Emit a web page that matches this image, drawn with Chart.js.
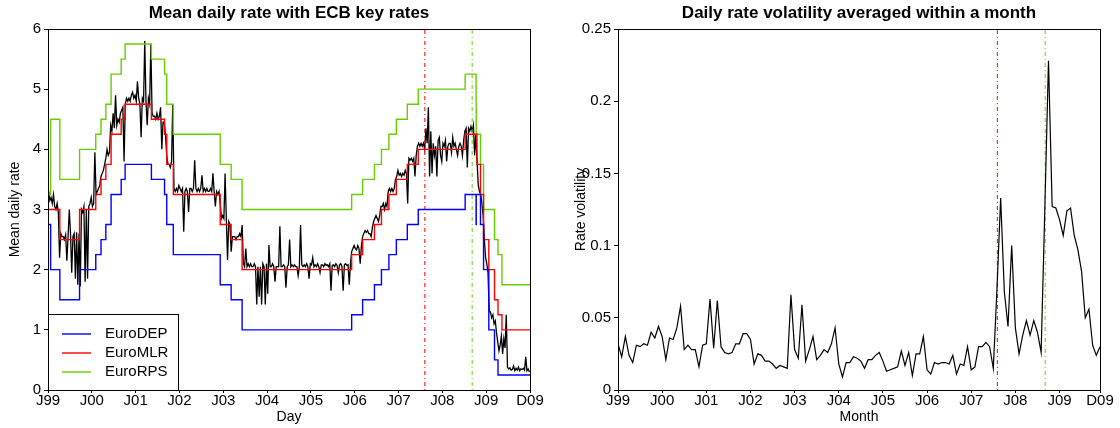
<!DOCTYPE html>
<html>
<head>
<meta charset="utf-8">
<script src="https://cdn.jsdelivr.net/npm/chart.js@4.4.1/dist/chart.umd.min.js"></script>
<style>
  html, body { margin: 0; padding: 0; background: #fff; }
  #wrap { display: flex; width: 1120px; height: 428px; }
  canvas { display: block; }
</style>
</head>
<body>
<div id="wrap">
  <canvas id="chart-daily" width="560" height="428"></canvas>
  <canvas id="chart-vol" width="560" height="428"></canvas>
</div>
<script>
// ── Data ──────────────────────────────────────────────────────────────────────
// x in years since 1 Jan 1999 (left) and months since Jan 1999 (right)
const tickLabels  = ["J99","J00","J01","J02","J03","J04","J05","J06","J07","J08","J09","D09"];
const dayTicks    = [0, 1, 2, 3, 4, 5, 6, 7, 8, 9, 10, 11];
const monthTicks  = [0, 12, 24, 36, 48, 60, 72, 84, 96, 108, 120, 131];

const seriesNames  = ["EuroDEP", "EuroMLR", "EuroRPS"];
const seriesColors = ["#0000FF", "#FF0000", "#66CD00"];

// ECB key rate changes
const rateDates = [0, 0.06, 0.27, 0.72, 1.09, 1.21, 1.32, 1.44, 1.67, 1.76, 2.36, 2.66, 2.71, 2.86,
  3.93, 4.18, 4.43, 6.93, 7.18, 7.45, 7.61, 7.78, 7.95, 8.2, 8.45, 9.52, 9.77, 9.773, 9.79, 9.87,
  9.94, 10.06, 10.19, 10.27, 10.36, 11];
const euroDEP = [2.75, 2.0, 1.5, 2.0, 2.25, 2.5, 2.75, 3.25, 3.5, 3.75, 3.5, 3.25, 2.75, 2.25,
  1.75, 1.5, 1.0, 1.25, 1.5, 1.75, 2.0, 2.25, 2.5, 2.75, 3.0, 3.25, 2.75, 3.25, 3.25, 2.75,
  2.0, 1.0, 0.5, 0.25, 0.25, 0.25];
const euroMLR = [3.0, 3.0, 2.5, 3.0, 3.25, 3.5, 3.75, 4.25, 4.5, 4.75, 4.5, 4.25, 3.75, 3.25,
  2.75, 2.5, 2.0, 2.25, 2.5, 2.75, 3.0, 3.25, 3.5, 3.75, 4.0, 4.25, 4.25, 4.25, 3.75, 3.25,
  2.5, 2.0, 1.5, 1.25, 1.0, 1.0];
const euroRPS = [3.25, 4.5, 3.5, 4.0, 4.25, 4.5, 4.75, 5.25, 5.5, 5.75, 5.5, 5.25, 4.75, 4.25,
  3.75, 3.5, 3.0, 3.25, 3.5, 3.75, 4.0, 4.25, 4.5, 4.75, 5.0, 5.25, 4.75, 4.25, 4.25, 3.75,
  3.0, 3.0, 2.5, 2.25, 1.75, 1.75];

// mean daily rate, three readings per month (Jan 1999 .. Dec 2009)
const dailyRate = [
  // 1999
  3.30,3.15,3.20, 3.10,3.25,3.05, 3.00,3.10,2.95, 2.20,2.60,2.55, 2.55,2.50,2.58, 2.15,2.55,3.00,
  2.60,1.95,2.55, 2.60,1.85,2.62, 1.75,2.60,1.72, 3.00,2.95,3.05, 1.80,3.00,1.85, 3.05,3.10,3.20,
  // 2000
  3.05,3.10,3.95, 3.25,3.30,3.35, 3.40,3.55,3.60, 3.65,3.75,3.85, 4.00,3.90,3.95, 4.40,4.30,4.60,
  4.35,4.90,4.40, 4.50,4.45,4.60, 4.65,4.70,3.80, 4.75,4.85,4.80, 4.85,4.80,4.90, 4.95,4.85,4.90,
  // 2001
  4.80,5.13,4.85, 4.75,4.20,4.85, 4.80,5.80,4.80, 4.40,4.85,4.75, 5.75,4.60,4.55, 4.55,4.50,4.60,
  4.50,4.55,4.70, 4.00,4.45,4.45, 4.25,3.90,3.75, 3.75,3.70,3.80, 4.75,3.35,3.30, 3.35,3.30,3.40,
  // 2002
  3.35,3.30,3.35, 2.63,3.30,3.35, 3.30,2.96,3.35, 3.35,3.30,3.35, 3.82,3.35,3.30, 3.35,3.30,3.35,
  3.57,3.30,3.35, 3.30,3.35,3.30, 3.30,3.35,3.30, 3.60,3.30,3.05, 3.30,3.25,3.30, 3.10,2.85,2.90,
  // 2003
  2.85,3.60,2.85, 2.16,2.80,2.75, 2.30,2.55,2.55, 2.55,2.50,2.55, 2.55,2.60,2.55, 2.74,2.10,2.05,
  2.35,2.05,2.10, 2.05,2.10,2.05, 2.05,2.10,2.05, 1.42,2.05,1.55, 2.05,1.42,2.10, 2.05,1.42,2.10,
  // 2004
  1.60,2.41,2.05, 2.05,2.10,2.05, 1.80,2.05,2.05, 2.05,2.72,2.05, 2.05,2.08,2.05, 1.70,2.05,2.08,
  2.50,2.05,2.08, 2.05,2.08,2.05, 2.05,1.90,2.05, 2.74,2.08,2.05, 2.08,2.05,2.10, 2.05,1.85,2.10,
  // 2005
  2.08,2.20,2.05, 2.08,2.05,2.10, 2.05,1.95,2.08, 2.08,2.05,2.10, 2.07,2.08,2.05, 2.10,1.65,2.07,
  2.08,2.05,2.10, 2.07,1.95,2.08, 2.10,2.05,1.65, 2.08,2.10,2.07, 2.08,1.75,2.10, 2.30,2.35,2.40,
  // 2006
  2.35,2.33,2.40, 2.35,2.10,2.40, 2.55,2.60,2.65, 2.62,2.65,2.60, 2.60,2.55,2.70, 2.80,2.85,2.90,
  2.85,2.80,2.90, 3.05,3.05,3.10, 3.00,3.10,3.05, 3.30,3.35,3.30, 3.35,3.30,3.35, 3.50,3.55,3.65,
  // 2007
  3.57,3.60,3.55, 3.60,3.57,3.65, 3.60,3.10,3.85, 3.82,3.85,3.80, 3.85,3.55,3.90, 4.05,4.10,4.05,
  4.10,4.05,4.10, 4.00,4.35,4.10, 4.70,3.55,4.30, 3.60,4.10,3.90, 4.05,3.55,4.15, 4.20,3.90,3.80,
  // 2008
  4.10,4.05,4.15, 3.80,4.05,4.10, 4.10,3.95,4.20, 4.05,4.10,4.00, 3.90,4.05,4.10, 4.05,3.90,4.15,
  4.30,4.35,3.70, 4.35,4.30,4.38, 4.30,4.40,3.90, 4.25,3.80,3.40, 3.30,3.25,3.10, 2.90,2.50,2.20,
  // 2009
  2.10,1.95,1.30, 1.30,1.20,1.25, 1.10,1.15,0.95, 0.80,0.65,0.75, 0.90,0.60,0.85, 0.70,1.25,0.38,
  0.35,0.37,0.33, 0.34,0.40,0.32, 0.36,0.33,0.38, 0.32,0.35,0.34, 0.36,0.33,0.55, 0.32,0.35,0.30,
];
const readingsPerYear = 36;

// turmoil markers: Aug 2007, Sep 2008
const eventDates  = [8.6, 9.68];
const eventMonths = [103.1, 116.1];
const eventColors = ["#FF0000", "#66CD00"];

// monthly averaged volatility, Jan 1999 .. Dec 2009
const monthlyVol = [
  0.032,0.023,0.037,0.024,0.019,0.031,0.030,0.032,0.031,0.040,0.036,0.044,
  0.037,0.021,0.036,0.035,0.043,0.058,0.028,0.031,0.028,0.028,0.016,0.031,
  0.032,0.063,0.029,0.062,0.030,0.026,0.025,0.026,0.032,0.032,0.039,0.039,
  0.035,0.018,0.025,0.024,0.020,0.020,0.018,0.015,0.017,0.016,0.015,0.066,
  0.028,0.022,0.059,0.020,0.028,0.037,0.021,0.024,0.028,0.026,0.032,0.043,
  0.018,0.009,0.019,0.019,0.023,0.022,0.020,0.015,0.021,0.021,0.024,0.026,
  0.020,0.013,0.014,0.015,0.016,0.027,0.017,0.026,0.010,0.025,0.025,0.037,
  0.014,0.011,0.019,0.018,0.019,0.019,0.018,0.024,0.011,0.018,0.017,0.030,
  0.014,0.016,0.030,0.030,0.033,0.030,0.015,0.070,0.133,0.068,0.044,0.100,
  0.043,0.025,0.038,0.048,0.038,0.048,0.040,0.026,0.125,0.228,0.127,0.126,
  0.118,0.107,0.124,0.126,0.107,0.097,0.082,0.050,0.056,0.031,0.024,0.030,
];

// ── Shared bits ───────────────────────────────────────────────────────────────
const FONT = '"Liberation Sans", Arial, Helvetica, sans-serif';
Chart.defaults.font.family = FONT;
Chart.defaults.color = "#000";

// title over the plot area + box round it
const plotFrame = {
  id: "plotFrame",
  afterDraw(chart, args, opts) {
    const { ctx, chartArea: a } = chart;
    ctx.save();
    ctx.strokeStyle = "#000";
    ctx.lineWidth = 1;
    ctx.strokeRect(a.left + 0.5, a.top + 0.5, a.right - a.left, a.bottom - a.top);
    ctx.font = "bold 17px " + FONT;
    ctx.fillStyle = "#000";
    ctx.textAlign = "center";
    ctx.textBaseline = "middle";
    ctx.fillText(opts.text, (a.left + a.right) / 2, 13);
    ctx.restore();
  },
};

// R-style legend in the lower left corner
const boxLegend = {
  id: "boxLegend",
  afterDraw(chart) {
    const { ctx, chartArea: a } = chart;
    const w = 130, h = 76;
    ctx.save();
    ctx.fillStyle = "#fff";
    ctx.fillRect(a.left, a.bottom - h, w, h);
    ctx.strokeStyle = "#000";
    ctx.lineWidth = 1;
    ctx.strokeRect(a.left + 0.5, a.bottom - h + 0.5, w, h);
    ctx.font = "15px " + FONT;
    ctx.textBaseline = "middle";
    seriesNames.forEach((name, i) => {
      const y = a.bottom - 56 + i * 19;
      ctx.strokeStyle = seriesColors[i];
      ctx.lineWidth = 1.4;
      ctx.beginPath();
      ctx.moveTo(a.left + 14, y);
      ctx.lineTo(a.left + 43, y);
      ctx.stroke();
      ctx.fillStyle = "#000";
      ctx.fillText(name, a.left + 57, y);
    });
    ctx.restore();
  },
};

function axisX(ticks, max, title) {
  return {
    type: "linear", min: 0, max: max, bounds: "data",
    afterBuildTicks: s => { s.ticks = ticks.map(v => ({ value: v })); },
    afterFit: s => { s.height = 38; },
    ticks: { autoSkip: false, maxRotation: 0, padding: 0, font: { size: 15, lineHeight: 1 },
             callback: (v, i) => tickLabels[i] },
    grid: { drawOnChartArea: false, drawTicks: true, tickLength: 3, color: "#000" },
    border: { color: "#000" },
    title: { display: true, text: title, font: { size: 14 }, padding: { top: 0, bottom: 2 } },
  };
}

function axisY(max, step, width, title, titlePad, fmt) {
  return {
    min: 0, max: max,
    afterFit: s => { s.width = width; },
    ticks: { stepSize: step, padding: 3, font: { size: 15 }, callback: fmt },
    grid: { drawOnChartArea: false, drawTicks: true, tickLength: 4, color: "#000" },
    border: { color: "#000" },
    title: { display: true, text: title, font: { size: 14 }, padding: { top: titlePad, bottom: 0 } },
  };
}

function eventLine(x, top, color) {
  return {
    data: [{ x: x, y: 0 }, { x: x, y: top }],
    borderColor: color, borderWidth: 1, borderDash: [1, 3, 4, 3], pointRadius: 0,
  };
}

// ── Left: mean daily rate with key rates ─────────────────────────────────────
const keyRates = [euroDEP, euroMLR, euroRPS];
new Chart(document.getElementById("chart-daily"), {
  type: "line",
  data: {
    datasets: [
      ...keyRates.map((vals, k) => ({
        label: seriesNames[k],
        data: rateDates.map((x, i) => ({ x: x, y: vals[i] })),
        borderColor: seriesColors[k], borderWidth: 1.4, stepped: true, pointRadius: 0,
      })),
      ...eventDates.map((x, i) => eventLine(x, 6, eventColors[i])),
      {
        label: "daily",
        data: dailyRate.map((y, i) => ({ x: (i + 0.5) / readingsPerYear, y: y })),
        borderColor: "#000", borderWidth: 1.3, pointRadius: 0,
      },
    ],
  },
  options: {
    responsive: false, animation: false, devicePixelRatio: 1,
    layout: { padding: { left: 0, right: 30, top: 29, bottom: 0 } },
    plugins: { legend: { display: false }, tooltip: { enabled: false },
               plotFrame: { text: "Mean daily rate with ECB key rates" } },
    scales: {
      x: axisX(dayTicks, 11, "Day"),
      y: axisY(6, 1, 48, "Mean daily rate", 6.5, v => v),
    },
  },
  plugins: [plotFrame, boxLegend],
});

// ── Right: monthly volatility ────────────────────────────────────────────────
new Chart(document.getElementById("chart-vol"), {
  type: "line",
  data: {
    datasets: [
      {
        label: "volatility",
        data: monthlyVol.map((y, m) => ({ x: m, y: y })),
        borderColor: "#000", borderWidth: 1.2, pointRadius: 0,
      },
      ...eventMonths.map((x, i) => eventLine(x, 0.25, eventColors[i])),
    ],
  },
  options: {
    responsive: false, animation: false, devicePixelRatio: 1,
    layout: { padding: { left: 0, right: 20, top: 29, bottom: 0 } },
    plugins: { legend: { display: false }, tooltip: { enabled: false },
               plotFrame: { text: "Daily rate volatility averaged within a month" } },
    scales: {
      x: axisX(monthTicks, 131, "Month"),
      y: axisY(0.25, 0.05, 58, "Rate volatility", 12.5, v => String(+v.toFixed(2))),
    },
  },
  plugins: [plotFrame],
});
</script>
</body>
</html>
